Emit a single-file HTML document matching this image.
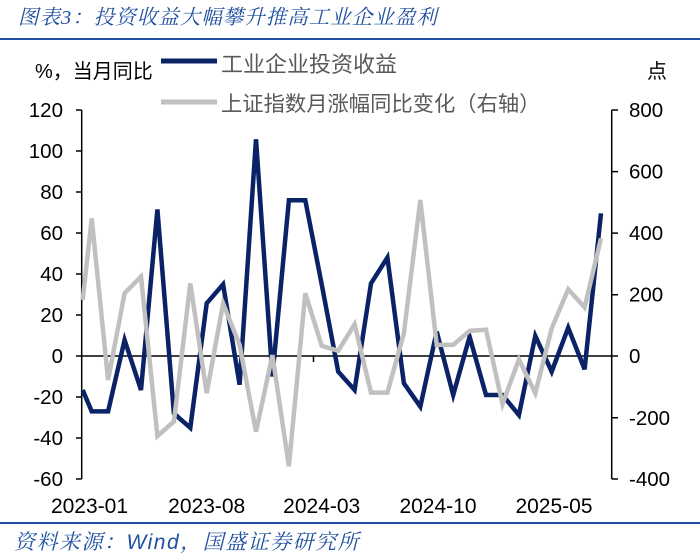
<!DOCTYPE html>
<html><head><meta charset="utf-8"><style>
html,body{margin:0;padding:0;background:#fff;}
svg{display:block;}
text{font-family:"Liberation Sans","Noto Sans CJK SC",sans-serif;}
</style></head><body>
<svg width="700" height="558" viewBox="0 0 700 558" xmlns="http://www.w3.org/2000/svg">
<text x="18" y="24" font-size="20.5" font-style="italic" fill="#2050a0" letter-spacing="1" style="font-family:'Liberation Serif','Noto Serif CJK SC',serif">图表3：投资收益大幅攀升推高工业企业盈利</text>
<line x1="0" y1="39" x2="700" y2="39" stroke="#2050a0" stroke-width="2"/>
<text x="35" y="78" font-size="20" fill="#000">%，当月同比</text>
<text x="647" y="78" font-size="20" fill="#000">点</text>
<line x1="161" y1="61" x2="217" y2="61" stroke="#0b2265" stroke-width="5"/>
<text x="221" y="72" font-size="22" fill="#595959">工业企业投资收益</text>
<line x1="161" y1="102" x2="217" y2="102" stroke="#c0c0c0" stroke-width="5"/>
<text x="221" y="111" font-size="21.3" fill="#595959">上证指数月涨幅同比变化（右轴）</text>
<g stroke="#000" stroke-width="1.5" fill="none">
<line x1="81.7" y1="110" x2="81.7" y2="479"/>
<line x1="611.7" y1="110" x2="611.7" y2="479"/>
<line x1="81.7" y1="356" x2="611.7" y2="356"/>
<path d="M76 110H81.7M76 151H81.7M76 192H81.7M76 233H81.7M76 274H81.7M76 315H81.7M76 356H81.7M76 397H81.7M76 438H81.7M76 479H81.7"/>
<path d="M611.7 110H618M611.7 171.6H618M611.7 233.1H618M611.7 294.7H618M611.7 356H618M611.7 417.8H618M611.7 479H618"/>
<line x1="313.5" y1="356" x2="313.5" y2="362"/>
</g>
<g font-size="20.5" fill="#000" text-anchor="end">
<text x="63" y="117">120</text><text x="63" y="158">100</text><text x="63" y="199">80</text><text x="63" y="240">60</text><text x="63" y="281">40</text><text x="63" y="322">20</text><text x="63" y="363">0</text><text x="63" y="404">-20</text><text x="63" y="445">-40</text><text x="63" y="486">-60</text>
</g>
<g font-size="20.5" fill="#000">
<text x="629" y="117">800</text><text x="629" y="178.6">600</text><text x="629" y="240.1">400</text><text x="629" y="301.7">200</text><text x="629" y="363">0</text><text x="629" y="424.8">-200</text><text x="629" y="486">-400</text>
</g>
<g font-size="21" fill="#000" text-anchor="middle">
<text x="89.5" y="513">2023-01</text><text x="206.7" y="513">2023-08</text><text x="321.7" y="513">2024-03</text><text x="438" y="513">2024-10</text><text x="554" y="513">2025-05</text>
</g>
<polyline fill="none" stroke="#0a2266" stroke-width="4.5" points="82.7,390 91.7,411.4 108.1,411.4 124.6,340 141,390 157.4,209.4 173.9,413.4 190.3,427.8 206.7,303.3 223.1,284.3 239.6,384.7 256,139.3 272.4,376.5 288.9,200.2 305.3,200.2 321.7,284.3 338.2,371.6 354.6,390 371,283.4 387.4,257.6 403.9,383.3 420.3,406.6 436.7,331.6 453.2,395 469.6,336.7 486,395 502.5,395 518.9,415 535.3,335.9 551.7,371.6 568.2,327.7 584.6,369.3 601,213.3"/>
<polyline fill="none" stroke="#c0c0c0" stroke-width="4.5" points="82.7,300 91.7,218.4 108.1,380 124.6,293.2 141,276.6 157.4,436 173.9,421.6 190.3,283.4 206.7,393.2 223.1,303.4 239.6,344.9 256,431.7 272.4,355.1 288.9,466.2 305.3,293.2 321.7,345.8 338.2,350.8 354.6,324.3 371,392.6 387.4,392.6 403.9,333.2 420.3,200 436.7,344.9 453.2,344.9 469.6,330.8 486,329.8 502.5,404 518.9,359.4 535.3,393.2 551.7,328.3 568.2,289.2 584.6,307.4 601,238.4"/>
<line x1="0" y1="523" x2="700" y2="523" stroke="#2050a0" stroke-width="2"/>
<text x="14" y="549" font-size="21" font-style="italic" fill="#2050a0" letter-spacing="1.5" style="font-family:'Liberation Serif','Noto Serif CJK SC',serif">资料来源：<tspan style="font-family:'Liberation Sans',sans-serif">Wind</tspan>，国盛证券研究所</text>
</svg>
</body></html>
